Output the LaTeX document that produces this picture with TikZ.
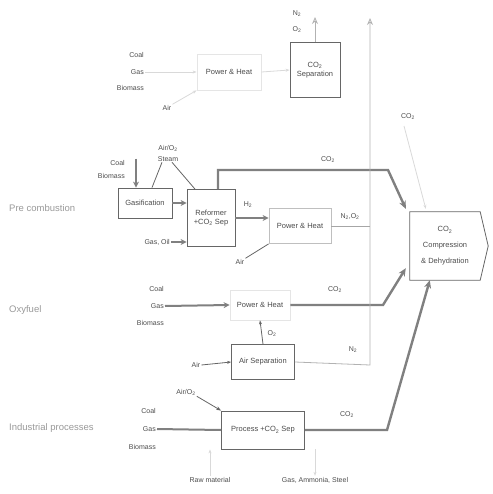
\documentclass[tikz,border=0pt]{standalone}
\usepackage{fontspec}
\setmainfont{Liberation Sans}
\usetikzlibrary{positioning,arrows.meta,calc}
\newcommand{\cotwo}{CO\textsubscript{2}}

\begin{document}
\begin{tikzpicture}[x=1pt,y=-1pt,
  unit/.style={rectangle,draw=black!60,thick,fill=white,inner sep=1pt,align=center,font=\fontsize{7.5}{9.5}\selectfont,text=black!70},
  faintunit/.style={unit,draw=black!10},
  lbl/.style={font=\fontsize{7}{8}\selectfont,text=black!70,align=center,inner sep=1pt},
  fuel/.style={lbl,align=right,anchor=east,font=\fontsize{7}{#1}\selectfont},
  rowlab/.style={font=\fontsize{9.5}{12}\selectfont,text=black!40,anchor=west,inner sep=0pt},
  feed/.style={-{Stealth[length=6pt,width=6pt]},line width=2pt,black!50},
  co2/.style={-{Stealth[length=8pt,width=7pt]},line width=2.4pt,black!50},
  thin/.style={thick,black!60},
  vent/.style={-{Stealth[length=7pt,width=6pt,open]},thick,black!30},
  faint/.style={-{Stealth[length=4pt]},thick,black!15},
]
\useasboundingbox (0,0) rectangle (492,494);

% === CO2 COMPRESSION ===
\node[lbl,minimum width=70pt,minimum height=68pt,font=\fontsize{7.5}{16}\selectfont] (comp) at (445,246) {\cotwo\\Compression\\\& Dehydration};
\draw[black!60,thick] (comp.north west) -- (comp.north east) -- ([xshift=8pt]comp.east) -- (comp.south east) -- (comp.south west) -- cycle;

% === POST COMBUSTION (faded) ===
\node[fuel=16.5] (fuel1) at (145,72) {Coal\\Gas\\Biomass};
\node[lbl] (air1) at (167,108) {Air};
\node[faintunit,minimum width=64pt,minimum height=36pt] (ph1) at (229,72) {Power \& Heat};
\node[unit,minimum width=50pt,minimum height=55pt] (sep) at (315,70) {\cotwo\\Separation};
\node[lbl,font=\fontsize{7}{16}\selectfont] (n2o2top) at (297,22) {N\textsubscript{2}\\O\textsubscript{2}};
\coordinate (septop) at (315,17);
\coordinate (co2p) at (404,126);
\node[lbl] (co2post) at (408,117) {\cotwo};

\draw[faint] (fuel1.east) -- (ph1.west);
\draw[faint] (air1.north east) -- (ph1.south west);
\draw[faint] (ph1.east) -- (sep.west);
\draw[vent] (sep.north) -- (septop);
\draw[faint] (co2p) -- ([xshift=16pt,yshift=3pt]comp.north west);

% === PRE COMBUSTION ===
\node[rowlab] (prelab) at (9,208) {Pre combustion};
\node[fuel=13] (fuel2) at (126,169) {Coal\\Biomass};
\node[lbl,font=\fontsize{7}{11}\selectfont] (steam) at (168,153) {Air/O\textsubscript{2}\\Steam};
\node[unit,minimum width=54pt,minimum height=30pt] (gasif) at (145,203) {Gasification};
\node[unit,minimum width=48pt,minimum height=57pt] (reform) at (211,218) {Reformer\\+\cotwo{} Sep};
\node[lbl,anchor=east] (gasoil) at (171,242) {Gas, Oil};
\node[unit,draw=black!25,minimum width=62pt,minimum height=35pt] (ph2) at (300,226) {Power \& Heat};
\node[lbl] (h2) at (248,205) {H\textsubscript{2}};
\node[lbl] (air2) at (240,262) {Air};
\node[lbl] (n2o2) at (350,217) {N\textsubscript{2},O\textsubscript{2}};
\node[lbl] (co2pre) at (328,160) {\cotwo};
\coordinate (co2bend) at (388,170);

\draw[feed] ([xshift=-9pt]gasif.north |- fuel2.north) -- ([xshift=-9pt]gasif.north);
\draw[thin] ([xshift=-6pt]steam.south) -- ([xshift=7pt]gasif.north);
\draw[thin] ([xshift=4pt]steam.south) -- ([xshift=-16pt]reform.north);
\draw[feed] (gasif.east) -- (gasif.east -| reform.west);
\draw[feed] (gasoil.east) -- (gasoil.east -| reform.west);
\draw[feed] (reform.east) -- (reform.east -| ph2.west);
\draw[thin] (air2.north east) -- (ph2.south west);
\draw[co2] ([xshift=7pt]reform.north) |- (co2bend) -- ([xshift=-4pt,yshift=3pt]comp.north west);

% === OXYFUEL ===
\node[rowlab] (oxylab) at (9,310) {Oxyfuel};
\node[fuel=17] (fuel3) at (165,306) {Coal\\Gas\\Biomass};
\node[faintunit,minimum width=60pt,minimum height=30pt] (ph3) at (260,305) {Power \& Heat};
\node[unit,minimum width=63pt,minimum height=35pt] (airsep) at (263,362) {Air Separation};
\node[lbl] (o2) at (272,334) {O\textsubscript{2}};
\node[lbl] (air3) at (196,365) {Air};
\node[lbl] (n2) at (353,350) {N\textsubscript{2}};
\node[lbl] (co2oxy) at (335,290) {\cotwo};
\coordinate (oxybend) at (383,305);
\coordinate (ventbot) at (370,365);
\coordinate (venttop) at (370,18);

\draw[feed] (fuel3.east) -- (ph3.west);
\draw[-{Stealth[length=4pt]},thin] (airsep.north) -- (ph3.south);
\draw[-{Stealth[length=4pt]},thin] (air3.east) -- (airsep.west);
\draw[co2] (ph3.east) -- (oxybend) -- ([xshift=-4pt,yshift=12pt]comp.south west);
\draw[vent] (airsep.east) -- (ventbot) -- (venttop);
\draw[thin,black!35] (ph2.east) -- (ph2.east -| venttop);

% === INDUSTRIAL PROCESSES ===
\node[rowlab] (indlab) at (9,428) {Industrial processes};
\node[fuel=18] (fuel4) at (157,429) {Coal\\Gas\\Biomass};
\node[lbl] (airo2) at (186,392) {Air/O\textsubscript{2}};
\node[unit,minimum width=83pt,minimum height=38pt] (proc) at (263,430) {Process +\cotwo{} Sep};
\node[lbl] (co2ind) at (347,415) {\cotwo};
\node[lbl] (raw) at (210,480) {Raw material};
\node[lbl] (prod) at (315,480) {Gas, Ammonia, Steel};
\coordinate (indbend) at (387,430);

\draw[line width=2pt,black!50] (fuel4.east) -- (proc.west);
\draw[-{Stealth[length=5pt]},thin] (airo2.south east) -- (proc.north west);
\draw[co2] (proc.east) -- (indbend) -- ([xshift=20pt]comp.south west);
\draw[faint] (raw.north) -- (raw.north |- proc.south);
\draw[faint] (proc.south -| prod.north) -- (prod.north);

\end{tikzpicture}
\end{document}
